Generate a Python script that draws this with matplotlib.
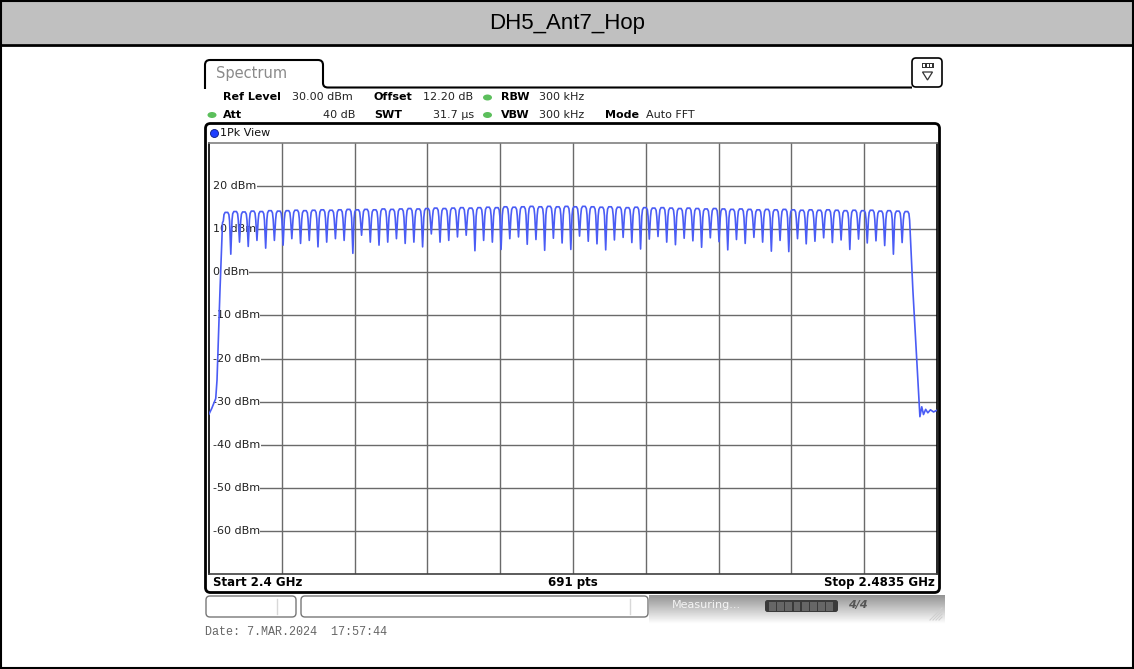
import numpy as np
import matplotlib
matplotlib.use("Agg")
import matplotlib.pyplot as plt
from matplotlib.patches import FancyBboxPatch, Rectangle, Ellipse, Circle, PathPatch, Polygon
from matplotlib.path import Path

# ---------------- data ----------------
title = "DH5_Ant7_Hop"
channels_mhz = np.arange(2402, 2481)  # 79 hopping channels
peak_dbm = [13.9, 14.1, 14.0, 14.2, 14.1, 14.3, 14.2, 14.3, 14.4, 14.3,
            14.4, 14.5, 14.4, 14.5, 14.6, 14.5, 14.6, 14.5, 14.7, 14.6,
            14.7, 14.8, 14.7, 14.8, 14.9, 14.8, 14.9, 15.0, 14.9, 15.0,
            15.1, 15.0, 15.2, 15.1, 15.2, 15.3, 15.2, 15.3, 15.2, 15.3,
            15.2, 15.3, 15.2, 15.1, 15.2, 15.1, 15.0, 15.1, 15.0, 14.9,
            15.0, 14.9, 14.8, 14.9, 14.8, 14.7, 14.8, 14.7, 14.6, 14.7,
            14.6, 14.5, 14.6, 14.5, 14.6, 14.5, 14.4, 14.5, 14.4, 14.5,
            14.4, 14.3, 14.4, 14.3, 14.4, 14.2, 14.3, 14.2, 14.1]
dip_dbm = [4.2, 7.0, 6.0, 7.4, 5.6, 7.4, 6.3, 7.8, 6.7, 7.4,
           5.9, 7.0, 7.8, 7.4, 4.4, 8.6, 7.0, 6.3, 7.0, 7.8,
           6.7, 7.0, 5.9, 8.9, 7.0, 7.4, 8.2, 8.6, 5.0, 7.4,
           7.0, 5.3, 7.8, 8.2, 6.5, 7.6, 5.1, 7.9, 6.8, 5.3,
           8.4, 7.2, 6.6, 5.2, 7.5, 8.1, 6.9, 5.4, 7.7, 8.3,
           7.0, 6.4, 7.9, 7.3, 5.8, 8.0, 7.1, 5.2, 7.6, 6.7,
           8.1, 7.0, 4.9, 7.4, 4.8, 7.8, 6.6, 7.2, 8.0, 6.9,
           7.5, 5.3, 7.7, 6.8, 7.3, 6.2, 4.2, 6.9]
rise_mhz = [2400.0, 2400.31, 2400.77, 2400.92, 2401.26, 2401.55]
rise_dbm = [-32.9, -31.6, -29.3, -25.0, -4.2, 11.5]
tail_mhz = [2480.73, 2481.54, 2481.75, 2481.95, 2482.2, 2482.45, 2482.75, 2483.1, 2483.5]
tail_dbm = [-4.0, -33.5, -31.2, -33.0, -31.8, -32.6, -31.9, -32.4, -32.0]

y_ticks = [20, 10, 0, -10, -20, -30, -40, -50, -60]
f_start, f_stop = 2400.0, 2483.5
ref_level, y_bottom = 30, -70

# ---------------- figure ----------------
W, H = 1134, 669
fig = plt.figure(figsize=(W / 100, H / 100), dpi=100)
bg = fig.add_axes([0, 0, 1, 1])
bg.set_xlim(0, W)
bg.set_ylim(H, 0)
bg.axis("off")

# header band
bg.add_patch(Rectangle((0, 0), W, 44, facecolor="#c0c0c0", edgecolor="none", zorder=0))
bg.plot([0, W], [44.5, 44.5], color="black", lw=2, zorder=2)
bg.add_patch(Rectangle((0.75, 0.75), W - 1.5, H - 1.5, facecolor="none", edgecolor="black", lw=1.5, zorder=3))
bg.text(W / 2, 23, title, ha="center", va="center", fontsize=16,
        family=["Liberation Sans Narrow", "Liberation Sans"], color="black")

# tab "Spectrum"
verts = [(205, 89), (205, 65), (205, 60), (210, 60), (318, 60), (323, 60), (323, 65),
         (323, 83), (323, 87.5), (328, 87.5), (912, 87.5)]
codes = [Path.MOVETO, Path.LINETO, Path.CURVE3, Path.CURVE3, Path.LINETO, Path.CURVE3, Path.CURVE3,
         Path.LINETO, Path.CURVE3, Path.CURVE3, Path.LINETO]
bg.add_patch(PathPatch(Path(verts, codes), facecolor="none", edgecolor="black", lw=1.5))
bg.text(216, 73.5, "Spectrum", ha="left", va="center", fontsize=10.5, color="#8a8a8a",
        family="DejaVu Sans")

# icon top right
bg.add_patch(FancyBboxPatch((912, 58), 30, 29, boxstyle="round,pad=0,rounding_size=4",
                            facecolor="white", edgecolor="black", lw=1.2))
bg.add_patch(Rectangle((921.5, 63), 12, 5, facecolor="#333333", edgecolor="none"))
for xx in (923, 926.5, 930):
    bg.add_patch(Rectangle((xx, 64.2), 2.2, 2.6, facecolor="white", edgecolor="none"))
bg.add_patch(Polygon([(922.5, 72), (932.5, 72), (927.5, 80)], closed=True, facecolor="white",
                     edgecolor="#333333", lw=0.9))

# info rows
fs = 8
green = "#5cbf5c"
r1, r2 = 97.5, 115
bg.text(223, r1, "Ref Level", fontsize=fs, fontweight="bold", va="center")
bg.text(292, r1, "30.00 dBm", fontsize=fs, va="center", color="#222222")
bg.text(374, r1, "Offset", fontsize=fs, fontweight="bold", va="center")
bg.text(423, r1, "12.20 dB", fontsize=fs, va="center", color="#222222")
bg.add_patch(Ellipse((487.5, r1), 9, 6, facecolor=green, edgecolor="none"))
bg.text(501, r1, "RBW", fontsize=fs, fontweight="bold", va="center")
bg.text(539, r1, "300 kHz", fontsize=fs, va="center", color="#222222")

bg.add_patch(Ellipse((212, r2), 9, 6, facecolor=green, edgecolor="none"))
bg.text(223, r2, "Att", fontsize=fs, fontweight="bold", va="center")
bg.text(355, r2, "40 dB", fontsize=fs, va="center", ha="right", color="#222222")
bg.text(374, r2, "SWT", fontsize=fs, fontweight="bold", va="center")
bg.text(474, r2, "31.7 µs", fontsize=fs, va="center", ha="right", color="#222222")
bg.add_patch(Ellipse((487.5, r2), 9, 6, facecolor=green, edgecolor="none"))
bg.text(501, r2, "VBW", fontsize=fs, fontweight="bold", va="center")
bg.text(539, r2, "300 kHz", fontsize=fs, va="center", color="#222222")
bg.text(605, r2, "Mode", fontsize=fs, fontweight="bold", va="center")
bg.text(646, r2, "Auto FFT", fontsize=fs, va="center", color="#222222")

# panel box
bg.add_patch(FancyBboxPatch((205.5, 123.5), 734, 469, boxstyle="round,pad=0,rounding_size=5",
                            facecolor="none", edgecolor="black", lw=2, zorder=5))
bg.add_patch(Circle((214.5, 133.5), 4, facecolor="#1f3fff", edgecolor="#0a1a80", lw=0.6))
bg.text(220, 133.5, "1Pk View", fontsize=fs, va="center", color="#111111")

# bottom row
bg.text(213, 582.5, "Start 2.4 GHz", fontsize=8.5, fontweight="bold", va="center")
bg.text(573, 582.5, "691 pts", fontsize=8.5, fontweight="bold", va="center", ha="center")
bg.text(935, 582.5, "Stop 2.4835 GHz", fontsize=8.5, fontweight="bold", va="center", ha="right")

# status bar
bg.add_patch(FancyBboxPatch((206, 596), 90, 21, boxstyle="round,pad=0,rounding_size=4",
                            facecolor="white", edgecolor="#777777", lw=1))
bg.plot([277, 277], [599, 614], color="#d8d8d8", lw=1)
bg.add_patch(FancyBboxPatch((301, 596), 347, 21, boxstyle="round,pad=0,rounding_size=4",
                            facecolor="white", edgecolor="#777777", lw=1))
bg.plot([630, 630], [599, 614], color="#d8d8d8", lw=1)
grad = np.linspace(0.58, 1.0, 40).reshape(-1, 1)
bg.imshow(grad, cmap="gray", vmin=0, vmax=1, extent=(649, 945, 624, 595), origin="upper",
          aspect="auto", zorder=0)
bg.text(672, 605, "Measuring...", fontsize=8, color="white", va="center", alpha=0.85)
bg.add_patch(FancyBboxPatch((765, 600), 73, 12, boxstyle="round,pad=0,rounding_size=2.5",
                            facecolor="#3a3a3a", edgecolor="none"))
for k in range(8):
    bg.add_patch(Rectangle((769 + k * 8.2, 601.5), 6.8, 9, facecolor="#666666", edgecolor="none"))
bg.text(848, 605, "4/4", fontsize=8, fontweight="bold", color="#555555", va="center", style="italic")
for k in range(5):
    bg.plot([930 + k * 3, 942], [620, 608 + k * 3], color="#cfcfcf", lw=0.8)

bg.text(205, 632, "Date: 7.MAR.2024  17:57:44", fontsize=8.5, color="#666666", va="center",
        family="Liberation Mono")
bg.set_xlim(0, W)
bg.set_ylim(H, 0)

# ---------------- spectrum axes ----------------
L, R, T, B = 209, 937, 143, 574
ax = fig.add_axes([L / W, (H - B) / H, (R - L) / W, (B - T) / H])
ax.set_xlim(f_start, f_stop)
ax.set_ylim(y_bottom, ref_level)
ax.set_xticks([])
ax.set_yticks([])
for s in ax.spines.values():
    s.set_color("black")
    s.set_linewidth(1.2)
ax.spines["top"].set_color("#808080")
ax.spines["bottom"].set_color("#404040")

grid_c = "#6a6a6a"
for k in range(1, 10):
    ax.axvline(f_start + k * (f_stop - f_start) / 10, color=grid_c, lw=1, zorder=1)
lab_x = f_start + 0.45
for v in y_ticks:
    ax.hlines(v, lab_x + 0.5, f_stop, color=grid_c, lw=1, zorder=1)
    ax.text(lab_x, v, f"{v} dBm", fontsize=8, va="center", ha="left", color="#222222",
            zorder=2, bbox=dict(facecolor="white", edgecolor="none", pad=0.3))

xs = list(rise_mhz)
ys = list(rise_dbm)
for i, c in enumerate(channels_mhz):
    p = peak_dbm[i]
    xs += [c - 0.36, c - 0.28, c - 0.15, c + 0.15, c + 0.28, c + 0.36]
    ys += [p - 2.0, p - 0.5, p, p, p - 0.5, p - 2.0]
    if i < len(dip_dbm):
        xs.append(c + 0.5)
        ys.append(dip_dbm[i])
xs += tail_mhz
ys += tail_dbm
ax.plot(xs, ys, color="#4a5cf5", lw=1.2, zorder=3)

fig.savefig("out.png", dpi=100)
